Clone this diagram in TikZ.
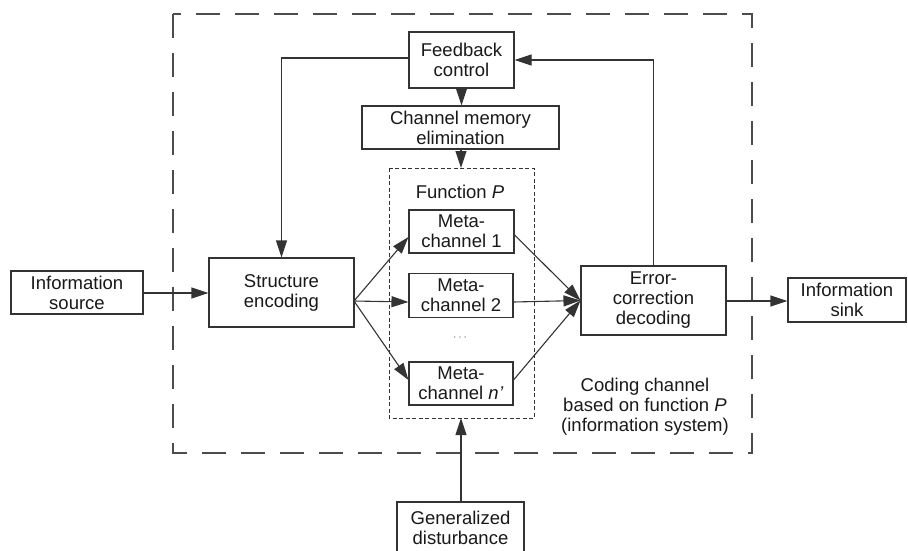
\documentclass[tikz,border=0pt]{standalone}
\usepackage{fontspec}
\setmainfont{Liberation Sans}
\usetikzlibrary{arrows.meta,calc}
\begin{document}
\begin{tikzpicture}[x=1pt,y=-1pt,
  every node/.style={font=\fontsize{18.5}{20}\selectfont,text=black!90},
  blk/.style={draw=black!80,line width=1.1pt,inner sep=0pt,align=center,fill=white},
  conn/.style={draw=black!80,line width=1.1pt},
  arr/.style={conn,-{Triangle[length=17pt,width=11pt]}},
  outer/.style={draw=black!70,line width=1.3pt,dash pattern=on 24pt off 15pt},
  inner/.style={draw=black!80,line width=0.9pt,dash pattern=on 4pt off 2.5pt}]
\useasboundingbox (0,0) rectangle (908,551);
% outer dashed region
\draw[outer] (173,14) rectangle (752,453);
% function P dashed region
\draw[inner] (389,168) rectangle (534,418);
\node at (460,192) {Function \textit{P}};
\node[text=black!60] at (460,338) {\fontsize{12}{12}\selectfont $\cdots$};
% boxes
\node[blk,minimum width=132pt,minimum height=43pt] (src) at (77,292.5) {Information\\source};
\node[blk,minimum width=145pt,minimum height=69pt] (se) at (281.5,292.5) {Structure\\encoding};
\node[blk,minimum width=105pt,minimum height=56pt] (fb) at (461.5,60) {Feedback\\control};
\node[blk,minimum width=197pt,minimum height=43pt] (cme) at (460.5,127.5) {Channel memory\\elimination};
\node[blk,minimum width=105pt,minimum height=43pt] (m1) at (461.5,231.5) {Meta-\\channel 1};
\node[blk,minimum width=104pt,minimum height=44pt] (m2) at (461,295.5) {Meta-\\channel 2};
\node[blk,minimum width=104pt,minimum height=43pt] (mn) at (461,383.5) {Meta-\\channel \textit{n}\kern0.5pt\textit{\char"2019}};
\node[blk,minimum width=145pt,minimum height=69pt] (ecd) at (653.5,300.5) {Error-\\correction\\decoding};
\node[blk,minimum width=118pt,minimum height=44pt] (sink) at (847,300) {Information\\sink};
\node[blk,minimum width=127pt,minimum height=52pt] (gd) at (460.5,528) {Generalized\\disturbance};
\node[align=center] (cap) at (645,407) {Coding channel\\based on function \textit{P}\\(information system)};
% named helper points
\coordinate (fan) at (354,301);
\coordinate (fpt) at (461,168);
\coordinate (fpb) at (461,418);
% connectors
\draw[arr] (src.east |- 0,293) -- (se.west |- 0,293);
\draw[arr] (fb.west |- 0,58) -| (se.north);
\draw[arr] (fb.south) -- (cme.north -| fb.south);
\draw[arr] (cme.south -| fpt) -- (fpt);
\draw[arr] (gd.north -| fpb) -- (fpb);
\draw[arr] (fan) -- (m1.west |- 0,237);
\draw[arr] (fan) -- (m2.west |- 0,302);
\draw[arr] (fan) -- (mn.west |- 0,380);
\draw[arr] (m1.east |- 0,235) -- (ecd.west);
\draw[arr] (m2.east |- 0,302) -- (ecd.west);
\draw[arr] (mn.east |- 0,380) -- (ecd.west);
\draw[arr] (ecd.north) |- (fb.east);
\draw[arr] (ecd.east |- 0,301) -- (sink.west |- 0,301);
\end{tikzpicture}
\end{document}
